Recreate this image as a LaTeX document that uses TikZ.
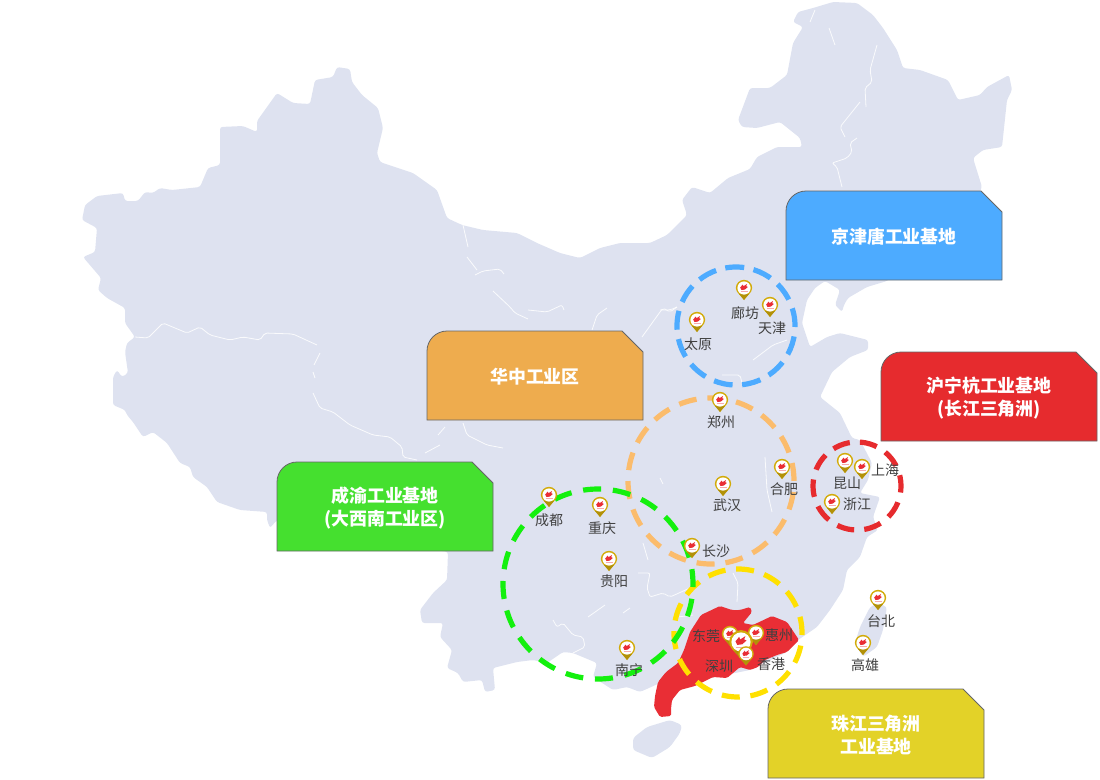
\documentclass[tikz,border=0pt]{standalone}
\usepackage{fontspec}
\setmainfont{Noto Sans CJK SC}
\usepackage{tikz}
\definecolor{mapgrey}{HTML}{DEE2F0}
\definecolor{gdred}{HTML}{E92E35}
\definecolor{pingold}{HTML}{D2AB0A}
\definecolor{bluec}{HTML}{4DABFF}
\definecolor{orangec}{HTML}{EEAC4E}
\definecolor{orangering}{HTML}{FBBC6C}
\definecolor{greenc}{HTML}{45E02F}
\definecolor{greenring}{HTML}{14F00E}
\definecolor{redc}{HTML}{E62B2E}
\definecolor{yellowc}{HTML}{E3D228}
\definecolor{yellowring}{HTML}{FFE000}
\tikzset{
	cityname/.style={text=black!75, font=\fontsize{14}{16}\selectfont, inner sep=0pt},
	boxname/.style={text=white, font=\fontsize{17.9}{23}\bfseries\selectfont, align=center, inner sep=0pt},
	borderline/.style={draw=white, opacity=0.85, line width=0.8pt, line join=round, rounded corners=2pt},
	ring/.style={line width=5.2pt}
}
\def\citypin[#1](#2){
	\begin{scope}[shift={(#2)},scale=#1]
		\fill[pingold] (0,12) .. controls (-2,8) and (-8.2,5) .. (-8.2,0) .. controls (-8.2,-4.5) and (-4.5,-8.2) .. (0,-8.2) .. controls (4.5,-8.2) and (8.2,-4.5) .. (8.2,0) .. controls (8.2,5) and (2,8) .. (0,12) -- cycle;
		\fill[pingold!85!black] (0,12) -- (-5,6) -- (5,6) -- cycle;
		\fill[white] (0,0) circle (6.6);
		\fill[gdred] (-3.8,-0.5) -- (-1.3,-3.5) -- (-0.5,-1.8) -- (3,-4) -- (2.2,-1.8) -- (3.8,-1) -- (0.8,1.6) -- (-2.6,2) -- cycle;
		\draw[gdred!40, line width=0.5pt] (-3.5,3.6) -- (3.5,3.6);
	\end{scope}
}
\def\regionbox[#1](#2,#3)(#4)#5{
	\draw[fill=#1, draw=black!60, line width=0.8pt] (#2,#3+89) -- (#2,#3+20) .. controls (#2,#3+9) and (#2+9,#3) .. (#2+20,#3) -- (#2+195,#3) -- (#2+216,#3+21) -- (#2+216,#3+89) -- cycle;
	\node[boxname] (#4) at (#2+108,#3+46) {#5};
}

\begin{document}
\begin{tikzpicture}[x=1pt,y=-1pt]
		\useasboundingbox (0,0) rectangle (1100,779);
		%%%%% MAP %%%%%
		\fill[mapgrey, rounded corners=2.5pt] (793,22) -- (798,12) -- (813,8) -- (833,2) -- (857,3) -- (873,15) -- (883,28) -- (897,50) -- (903,68) -- (920,70) -- (948,80) -- (958,100) -- (980,95) -- (987,87) -- (1009,75) -- (1012,90) -- (1007,100) -- (1002,147) -- (983,150) -- (973,158) -- (982,187)
			-- (965,225) -- (887,281) -- (867,287) -- (848,298) -- (844,305) -- (842,312) -- (835,305) -- (840,290) -- (825,281) -- (815,288) -- (807,300) -- (802,323) -- (810,347) -- (827,337) -- (840,333) -- (868,340) -- (868,350) -- (850,357) -- (832,372) -- (820,397) -- (840,413) -- (852,438) -- (860,440) -- (872,463) -- (868,480) -- (860,493) -- (880,497) -- (873,517) -- (878,530) -- (867,537) -- (860,557) -- (847,570) -- (843,590) -- (830,610) -- (817,627) -- (798,640) -- (787,652) -- (750,670)
			-- (700,680) -- (660,683) -- (640,692) -- (627,687) -- (613,690) -- (593,677) -- (597,663) -- (573,653) -- (563,652) -- (547,663) -- (533,660) -- (517,662) -- (493,668) -- (495,690) -- (485,692) -- (482,680) -- (463,682) -- (458,673) -- (447,668) -- (452,650) -- (440,637) -- (443,623) -- (422,623) -- (420,610) -- (433,593) -- (447,580) -- (448,552)
			-- (350,535) -- (277,520) -- (270,528) -- (267,520) -- (267,512) -- (240,510) -- (217,502) -- (207,487) -- (193,477) -- (190,467) -- (180,463) -- (167,443) -- (153,432) -- (143,437) -- (133,422) -- (127,415) -- (125,410) -- (113,405) -- (113,377) -- (117,370) -- (122,377) -- (128,373) -- (125,352) -- (127,343) -- (135,337) -- (125,323) -- (125,308) -- (107,298) -- (98,290) -- (101,278) -- (83,257) -- (95,252) -- (97,228) -- (82,220) -- (85,205) -- (97,196) -- (123,193) -- (125,201) -- (138,201) -- (145,192) -- (153,193) -- (160,188) -- (172,190) -- (200,187) -- (208,168) -- (220,165) -- (220,127) -- (243,126) -- (257,132) -- (257,121) -- (277,93) -- (293,103) -- (310,104) -- (315,80) -- (333,77) -- (337,67) -- (350,69) -- (352,82) -- (362,95) -- (378,108) -- (383,128) -- (377,153) -- (380,162) -- (413,173) -- (437,190) -- (447,218) -- (462,225) -- (483,230) -- (517,233) -- (537,243) -- (560,253) -- (580,258) -- (600,248) -- (620,243) -- (650,243) -- (667,235) -- (687,215) -- (682,200) -- (692,187) -- (710,193) -- (728,178) -- (750,169) -- (757,157) -- (777,147) -- (802,147) -- (800,138) -- (780,122) -- (757,128) -- (742,127) -- (738,120) -- (750,88) -- (770,88) -- (787,75) -- (793,43) -- (803,27) -- cycle;
		% hainan, taiwan
		\fill[mapgrey, rounded corners=3pt] (682,725) -- (670,720) -- (647,727) -- (633,738) -- (633,750) -- (652,758) -- (670,747) -- (680,733) -- cycle;
		\fill[mapgrey, rounded corners=3pt] (878,603) -- (870,607) -- (860,627) -- (855,643) -- (863,657) -- (877,647) -- (883,630) -- (887,607) -- cycle;
		
		% inner borders
		\draw[borderline] (135,337) -- (148,338) -- (163,323) -- (187,333) -- (200,327) -- (210,335) -- (230,340) -- (243,337) -- (260,340) -- (265,333) -- (293,334) -- (317,345);
		\draw[borderline] (320,353) -- (314,365) (313,372) -- (315,378) (313,393) -- (320,408) -- (333,412) -- (350,425) -- (373,435) -- (390,437) -- (402,447) -- (403,457) -- (417,460);
		\draw[borderline] (425,453) -- (440,445) (445,427) -- (438,435) (463,423) -- (467,435) -- (487,445) -- (503,448);
		\draw[borderline] (463,225) -- (468,247) (467,257) -- (477,270) (475,275) -- (483,271) -- (500,269) -- (504,274);
		\draw[borderline] (493,291) -- (510,307) -- (515,313) -- (528,319) (528,310) -- (547,312) -- (562,305) -- (564,310);
		\draw[borderline] (592,330) -- (597,315) -- (607,308) (642,337) -- (660,312) -- (663,308) -- (670,312) -- (677,307);
		\draw[borderline] (815,10) -- (810,22) (829,28) -- (835,45) (877,45) -- (870,70) -- (872,82) -- (865,88) -- (866,107);
		\draw[borderline] (860,102) -- (840,127) -- (845,137) (857,138) -- (850,143) -- (852,152) -- (847,158) -- (832,163) -- (837,167) -- (842,187);
		\draw[borderline] (660,310) -- (670,310) -- (677,307) (753,360) -- (773,345) -- (787,340) (722,375) -- (740,375) -- (743,387);
		\draw[borderline] (643,543) -- (648,560) (638,573) -- (650,573) -- (647,588) -- (650,597) -- (663,593) -- (670,597) -- (690,588) (678,617) -- (693,615);
		\draw[borderline] (605,605) -- (588,617) (553,620) -- (557,627) -- (563,623) -- (573,635) -- (583,637) -- (585,647) -- (573,653) (630,608) -- (623,613);
		\draw[borderline] (733,573) -- (738,583) -- (737,602) (765,457) -- (767,490) -- (772,512) (660,478) -- (663,484);
		
		\fill[gdred, rounded corners=1.5pt] (720,606) -- (732,610) -- (740,610) -- (750,607) -- (752,612) -- (743,623) -- (753,625) -- (772,616) -- (787,622) -- (799,640) -- (787,652) -- (777,655) -- (765,660) -- (758,667) -- (750,670) -- (740,667) -- (733,673) -- (727,678) -- (713,677) -- (695,686) -- (680,690) -- (672,700) -- (671,709) -- (671,716) -- (660,717) -- (654,707) -- (655,696) -- (658,682) -- (666,672) -- (678,663) -- (684,650) -- (690,632) -- (701,615) -- cycle;
		
		%%%%% RINGS %%%%%
		\draw[ring, draw=orangering, dash pattern=on 18pt off 10.97pt, dash phase=18pt] (711,481) circle (83);
		\draw[ring, draw=yellowring, dash pattern=on 18pt off 10.7pt, dash phase=16pt] (738,633) circle (64);
		\draw[ring, draw=greenring, dash pattern=on 18pt off 11.85pt, dash phase=15pt] (598,584) circle (95);
		\draw[ring, draw=bluec, dash pattern=on 19pt off 9.52pt, dash phase=18pt] (736,326) circle (59);
		\draw[ring, draw=redc, dash pattern=on 17.5pt off 10.15pt, dash phase=11pt] (857,486) circle (44);
		
		%%%%% BOXES %%%%%
		\regionbox[bluec](786,191)(jingjintang){京津唐工业基地}
		\regionbox[orangec](427,331)(huazhong){华中工业区}
		\regionbox[greenc](277,462)(chengyu){成渝工业基地\\(大西南工业区)}
		\regionbox[redc](881,352)(huninghang){沪宁杭工业基地\\(长江三角洲)}
		\regionbox[yellowc](768,689)(zhujiang){珠江三角洲\\工业基地}
		
		%%%%% PINS %%%%%
		\citypin[1](697,320)
		\citypin[1](744,288)
		\citypin[1](770,305)
		\citypin[1](720,400)
		\citypin[1](723,484)
		\citypin[1](782,467)
		\citypin[1](692,546)
		\citypin[1](549,495)
		\citypin[1](600,505)
		\citypin[1](609,559)
		\citypin[1](627,648)
		\citypin[1](845,461)
		\citypin[1](862,467)
		\citypin[1](832,502)
		\citypin[1](878,598)
		\citypin[1](863,643)
		\citypin[1](730,634)
		\citypin[1](756,633)
		\citypin[1.45](741,642)
		\citypin[0.95](746,654)
		
		%%%%% NAMES %%%%%
		\node[cityname] (taiyuan) at (698,344) {太原};
		\node[cityname] (langfang) at (745,313) {廊坊};
		\node[cityname] (tianjin) at (772,328) {天津};
		\node[cityname] (zhengzhou) at (721,422) {郑州};
		\node[cityname] (wuhan) at (727,505) {武汉};
		\node[cityname] (hefei) at (784,489) {合肥};
		\node[cityname] (changsha) at (716,551) {长沙};
		\node[cityname] (chengdu) at (549,520) {成都};
		\node[cityname] (chongqing) at (602,528) {重庆};
		\node[cityname] (guiyang) at (614,581) {贵阳};
		\node[cityname] (nanning) at (629,670) {南宁};
		\node[cityname] (kunshan) at (847,483) {昆山};
		\node[cityname] (shanghai) at (885,470) {上海};
		\node[cityname] (zhejiang) at (857,504) {浙江};
		\node[cityname] (taibei) at (881,621) {台北};
		\node[cityname] (gaoxiong) at (865,665) {高雄};
		\node[cityname] (dongguan) at (706,636) {东莞};
		\node[cityname] (huizhou) at (779,635) {惠州};
		\node[cityname] (shenzhen) at (719,666) {深圳};
		\node[cityname] (xianggang) at (771,664) {香港};
		
		%%%%% END %%%%%
	\end{tikzpicture}
\end{document}
